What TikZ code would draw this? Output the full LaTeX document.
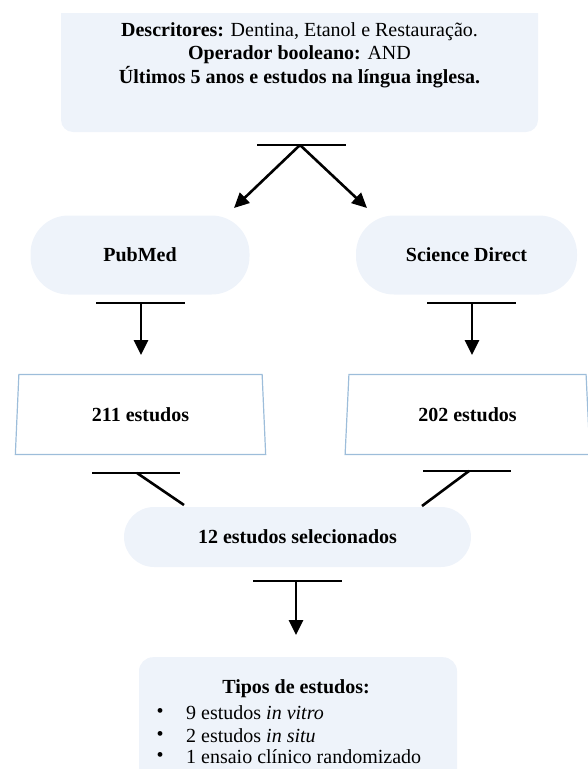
\documentclass[tikz,border=0pt]{standalone}
\usepackage{fontspec}
\setmainfont{Liberation Serif}
\usetikzlibrary{positioning,arrows.meta,shapes.geometric}
\definecolor{boxfill}{HTML}{EEF3FA}
\definecolor{nline}{HTML}{9DBDDA}

\begin{document}
\begin{tikzpicture}[x=1pt,y=-1pt,
      every node/.style={font=\fontsize{20}{23}\selectfont},
      topbox/.style={fill=boxfill,rounded corners=12pt,minimum width=477pt,minimum height=154pt,align=center,font=\fontsize{20}{23.5}\selectfont},
      dbbox/.style={fill=boxfill,rounded corners=38pt,minimum height=79pt,font=\fontsize{20}{23}\selectfont\bfseries},
      nbox/.style={draw=nline,line width=1.2pt,trapezium,trapezium stretches=true,minimum height=80pt,inner sep=0pt,font=\fontsize{20}{23}\selectfont\bfseries},
      selbox/.style={fill=boxfill,rounded corners=30pt,minimum width=347pt,minimum height=60pt,font=\fontsize{20}{23}\selectfont\bfseries},
      tbar/.style={line width=2.6pt},
      arr/.style={line width=2.6pt,-{Triangle[length=15pt,width=14pt]}}]
    \useasboundingbox (0,0) rectangle (588,769);
    \clip (0,13) rectangle (588,769);
    % Search criteria box (cut at the top)
    \node[topbox] (busca) at (299.5,55)
      {\textbf{Descritores:} Dentina, Etanol e Restauração.\\
       \textbf{Operador booleano:} AND\\
       \textbf{Últimos 5 anos e estudos na língua inglesa.}};
    % Databases
    \node[dbbox,minimum width=219pt] (pubmed) at (140,255) {PubMed};
    \node[dbbox,minimum width=221pt] (sd) at (466.5,255) {Science Direct};
    % Split below the criteria
    \coordinate (t1) at (300,145);
    \coordinate (t1a) at (257,145);
    \coordinate (t1b) at (346,145);
    \coordinate (pm_in) at (234,208);
    \coordinate (sd_in) at (367,208);
    \draw[tbar] (t1a) -- (t1b);
    \draw[arr] (t1) -- (pm_in);
    \draw[arr] (t1) -- (sd_in);
    % Study counts
    \node[nbox,minimum width=253pt,trapezium left angle=84.3,trapezium right angle=84.3] (n211) at (140.5,414.5) {211 estudos};
    \node[nbox,minimum width=245pt,trapezium left angle=83.6,trapezium right angle=83.6] (n202) at (467.5,414.5) {202 estudos};
    % database -> count
    \coordinate (t2) at (141,303);
    \coordinate (t3) at (472,303);
    \draw[tbar] (96,303) -- (185,303);
    \draw[tbar] (427,303) -- (516,303);
    \draw[arr] (t2) -- (141,355);
    \draw[arr] (t3) -- (472,355);
    % Selection
    \node[selbox] (sel) at (297.5,537) {12 estudos selecionados};
    \coordinate (t4) at (137,473);
    \coordinate (t5) at (469,471);
    \coordinate (sel_l) at (184,505);
    \coordinate (sel_r) at (422,506);
    \draw[tbar] (92,473) -- (180,473);
    \draw[tbar] (423,471) -- (511,471);
    \draw[tbar] (t4) -- (sel_l);
    \draw[tbar] (t5) -- (sel_r);
    % Study types
    \node[fill=boxfill,rounded corners=14pt,minimum width=318pt,minimum height=150pt,anchor=north] (tipos) at (298,657) {};
    \coordinate (t6) at (296,581);
    \coordinate (tipos_in) at (296,635);
    \draw[tbar] (253,581) -- (342,581);
    \draw[arr] (t6) -- (tipos_in);
    \node[font=\fontsize{20}{23}\selectfont\bfseries] (titulo) at (296,689) {Tipos de estudos:};
    \foreach \y/\txt [count=\i] in {713/{9 estudos \textit{in vitro}},
                                   736/{2 estudos \textit{in situ}},
                                   757/{1 ensaio clínico randomizado}} {
      \node (bul\i) at (160,\y) {•};
      \node[anchor=west,inner sep=0pt] (item\i) at (186,\y) {\txt};
    }
  \end{tikzpicture}
\end{document}
